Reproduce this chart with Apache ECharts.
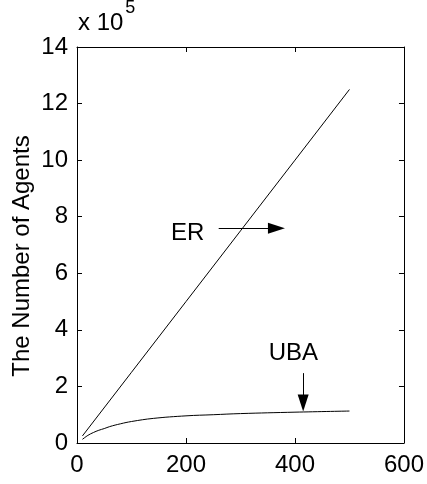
<!DOCTYPE html>
<html>
<head>
<meta charset="utf-8">
<script src="https://cdn.jsdelivr.net/npm/echarts@6/dist/echarts.min.js"></script>
<style>
  html, body { margin: 0; padding: 0; background: #fff; }
  #chart { width: 427px; height: 484px; }
</style>
</head>
<body>
<div id="chart"></div>
<script>
// Number of agents versus step, for the ER and UBA networks
const erSteps = [10, 100, 200, 300, 400, 500];
const erAgents = [25000, 250000, 500000, 750000, 1000000, 1250000];
const ubaSteps = [10, 20, 30, 40, 50, 60, 80, 100, 140, 200, 250, 300, 400, 500];
const ubaAgents = [13000, 27000, 37000, 45000, 51000, 58000, 68000, 76000, 87000, 96000, 100000, 104000, 109000, 113000];

const xTicks = [0, 200, 400, 600];
const yTicks = [0, 2, 4, 6, 8, 10, 12, 14]; // in units of 10^5
const yScale = 100000;

// Annotation text and arrows (data coordinates)
const notes = [
  { text: 'ER', x: 203, y: 742000 },
  { text: 'UBA', x: 397, y: 318000 }
];
const erArrow = { from: [260, 759000], to: [366, 759000] };
const ubaArrow = { from: [415, 247000], to: [415, 141000] };

const font = 'Liberation Sans, Arial, Helvetica, sans-serif';
const black = '#000';

const chart = echarts.init(document.getElementById('chart'), null, { renderer: 'canvas' });

const xBase = {
  type: 'value',
  min: xTicks[0],
  max: xTicks[xTicks.length - 1],
  interval: xTicks[1] - xTicks[0],
  axisLine: { show: true, onZero: false, lineStyle: { color: black, width: 1 } },
  axisTick: { show: true, inside: true, length: 5, lineStyle: { color: black, width: 1 } },
  splitLine: { show: false }
};
const yBase = {
  type: 'value',
  min: yTicks[0] * yScale,
  max: yTicks[yTicks.length - 1] * yScale,
  interval: (yTicks[1] - yTicks[0]) * yScale,
  axisLine: { show: true, onZero: false, lineStyle: { color: black, width: 1 } },
  axisTick: { show: true, inside: true, length: 5, lineStyle: { color: black, width: 1 } },
  splitLine: { show: false }
};

const arrowLine = (a) => [
  { coord: a.from, symbol: 'none' },
  { coord: a.to, symbol: 'triangle', symbolSize: [11, 17] }
];

chart.setOption({
  animation: false,
  backgroundColor: '#fff',
  grid: { left: 77, right: 23, top: 47, bottom: 41, containLabel: false },
  xAxis: [
    Object.assign({}, xBase, {
      position: 'bottom',
      axisLabel: {
        show: true, margin: 10, color: black, fontFamily: font, fontSize: 24,
        showMinLabel: true, showMaxLabel: true, hideOverlap: false
      }
    }),
    Object.assign({}, xBase, { position: 'top', axisLabel: { show: false } })
  ],
  yAxis: [
    Object.assign({}, yBase, {
      position: 'left',
      axisLabel: {
        show: true, margin: 9, color: black, fontFamily: font, fontSize: 24,
        showMinLabel: true, showMaxLabel: true, hideOverlap: false,
        formatter: (v) => String(Math.round(v / yScale))
      }
    }),
    Object.assign({}, yBase, { position: 'right', axisLabel: { show: false } })
  ],
  series: [
    {
      name: 'ER',
      type: 'line',
      data: erSteps.map((s, i) => [s, erAgents[i]]),
      showSymbol: false,
      symbol: 'none',
      lineStyle: { color: black, width: 1 },
      silent: true,
      markLine: {
        silent: true,
        animation: false,
        label: { show: false },
        lineStyle: { color: black, width: 1, type: 'solid' },
        itemStyle: { color: black },
        emphasis: { disabled: true },
        data: [arrowLine(erArrow), arrowLine(ubaArrow)]
      }
    },
    {
      name: 'UBA',
      type: 'line',
      data: ubaSteps.map((s, i) => [s, ubaAgents[i]]),
      showSymbol: false,
      symbol: 'none',
      smooth: 0.4,
      lineStyle: { color: black, width: 1 },
      silent: true
    },
    {
      name: 'notes',
      type: 'scatter',
      data: notes.map((n) => [n.x, n.y, n.text]),
      symbolSize: 0,
      itemStyle: { color: black, opacity: 1 },
      silent: true,
      emphasis: { disabled: true },
      label: {
        show: true,
        position: 'inside',
        formatter: (p) => p.value[2],
        color: black,
        opacity: 1,
        fontFamily: font,
        fontSize: 24
      }
    }
  ],
  graphic: [
    {
      type: 'text',
      x: 22,
      y: 256,
      rotation: Math.PI / 2,
      style: {
        text: 'The Number of Agents',
        fill: black,
        font: '24px ' + font,
        align: 'center',
        verticalAlign: 'middle'
      }
    },
    {
      type: 'text',
      x: 78,
      y: 35,
      style: {
        text: '{m|x 10}{s|5}',
        fill: black,
        verticalAlign: 'bottom',
        rich: {
          m: { fontFamily: font, fontSize: 24, fill: black, verticalAlign: 'bottom' },
          s: { fontFamily: font, fontSize: 18, fill: black, verticalAlign: 'top', padding: [0, 0, 18, 2] }
        }
      }
    }
  ]
});
</script>
</body>
</html>
